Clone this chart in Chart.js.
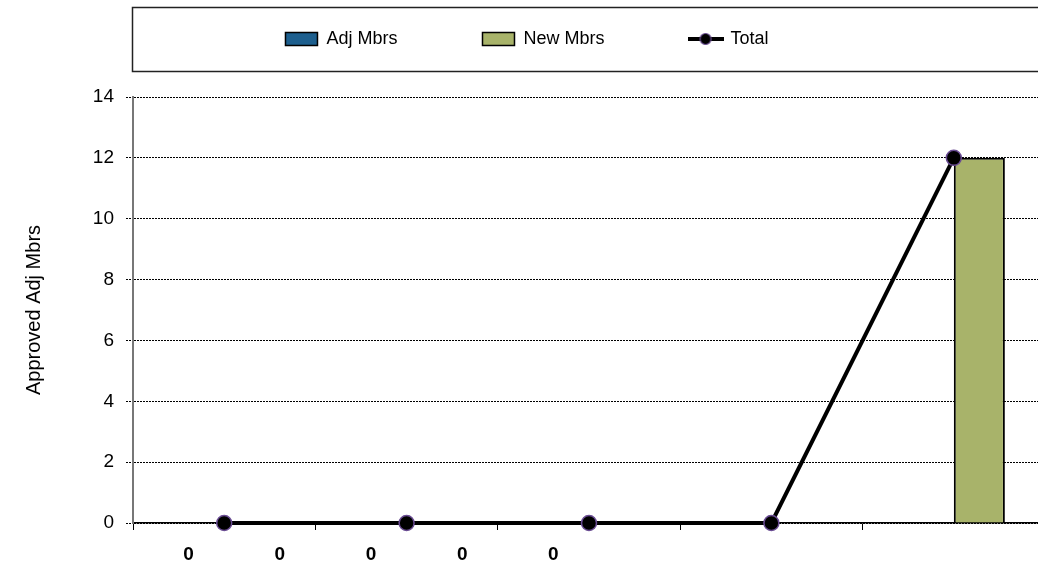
<!DOCTYPE html>
<html><head><meta charset="utf-8">
<script src="https://cdn.jsdelivr.net/npm/chart.js@4/dist/chart.umd.min.js"></script>
<style>html,body{margin:0;padding:0;background:#fff;overflow:hidden}</style>
</head><body>
<canvas id="c" width="1054" height="571" style="display:block"></canvas>
<script>
const categories = ['1', '2', '3', '4', '5'];
const xTickLabels = ['0', '0', '0', '0', '0', '', '', '', '', ''];
const adjMbrs = [0, 0, 0, 0, 0];
const newMbrs = [0, 0, 0, 0, 12];
const total = [0, 0, 0, 0, 12];
const yMin = 0, yMax = 14, yStep = 2;
const seriesNames = ['Adj Mbrs', 'New Mbrs', 'Total'];
const yTitle = 'Approved Adj Mbrs';

const FONT = 'Liberation Sans, Arial, sans-serif';

// legend glyph for the line series: line with a marker
const lineIcon = document.createElement('canvas');
lineIcon.width = 36; lineIcon.height = 14;
(function () {
  const g = lineIcon.getContext('2d');
  g.strokeStyle = '#000'; g.lineWidth = 4;
  g.beginPath(); g.moveTo(0, 7); g.lineTo(36, 7); g.stroke();
  g.beginPath(); g.arc(18, 7, 5.5, 0, Math.PI * 2);
  g.fillStyle = '#000'; g.fill();
  g.strokeStyle = '#6a4c93'; g.lineWidth = 1.2; g.stroke();
})();

const legendFrame = {
  id: 'legendFrame',
  beforeDraw(chart) {
    const lg = chart.legend;
    if (!lg || !lg.legendHitBoxes || !lg.legendHitBoxes.length) return;
    const hb = lg.legendHitBoxes[0];
    const cy = hb.top + hb.height / 2;
    const ctx = chart.ctx;
    ctx.save();
    ctx.strokeStyle = '#222';
    ctx.lineWidth = 1.5;
    ctx.strokeRect(chart.chartArea.left - 0.5, Math.round(cy - 32) + 0.5, chart.width, 64);
    ctx.restore();
  }
};

new Chart(document.getElementById('c'), {
  data: {
    labels: categories,
    datasets: [
      { type: 'bar', label: seriesNames[0], data: adjMbrs, backgroundColor: '#1d5f8e', borderColor: '#000', borderWidth: 2, categoryPercentage: 0.56, barPercentage: 1, order: 1 },
      { type: 'bar', label: seriesNames[1], data: newMbrs, backgroundColor: '#a8b36a', borderColor: '#000', borderWidth: 2, categoryPercentage: 0.56, barPercentage: 1, order: 1 },
      { type: 'line', label: seriesNames[2], data: total, borderColor: '#000', borderWidth: 4, tension: 0, clip: false,
        pointRadius: 7.5, pointBackgroundColor: '#000', pointBorderColor: '#6a4c93', pointBorderWidth: 1.5, order: 0 }
    ]
  },
  options: {
    responsive: false,
    animation: false,
    layout: { padding: { top: -55, left: 0, right: 0, bottom: 0 } },
    plugins: {
      tooltip: { enabled: false },
      subtitle: { display: true, text: '', weight: 500, padding: { top: 0, bottom: 15 }, font: { size: 20 } },
      legend: {
        position: 'top',
        align: 'center',
        labels: {
          usePointStyle: true,
          pointStyleWidth: 32,
          boxHeight: 13,
          padding: 85,
          color: '#000',
          font: { family: FONT, size: 18 },
          generateLabels(chart) {
            return chart.data.datasets.map((ds, i) => ({
              text: ds.label,
              datasetIndex: i,
              fillStyle: ds.type === 'bar' ? ds.backgroundColor : '#000',
              strokeStyle: '#000',
              lineWidth: ds.type === 'bar' ? 1.5 : 0,
              pointStyle: ds.type === 'bar' ? 'rect' : lineIcon,
              hidden: false,
              fontColor: '#000'
            }));
          }
        }
      }
    },
    scales: {
      x: {
        type: 'category',
        offset: true,
        grid: { display: true, drawOnChartArea: false, offset: true, tickLength: 7, color: '#000', tickColor: '#000' },
        border: { color: '#000', width: 1.5 },
        ticks: { display: false },
        afterFit(s) { s.height = 8; }
      },
      x2: {
        type: 'category',
        labels: xTickLabels,
        position: 'bottom',
        offset: true,
        grid: { display: false, drawTicks: false },
        border: { display: false },
        ticks: { color: '#000', font: { family: FONT, size: 19, weight: 'bold' }, labelOffset: 10, maxRotation: 0, autoSkip: false, padding: 12 },
        afterFit(s) { s.height = 40; }
      },
      y: {
        min: yMin, max: yMax,
        ticks: { stepSize: yStep, color: '#000', font: { family: FONT, size: 19 }, padding: 12 },
        grid: { color: '#000', lineWidth: 1, tickLength: 7, tickBorderDash: [2, 1] },
        border: { color: '#777', width: 2, dash: [2, 1] },
        title: { display: true, text: yTitle, color: '#000', font: { family: FONT, size: 20 }, padding: { top: 22, bottom: 0 } },
        afterFit(s) { s.width = 133; }
      }
    }
  },
  plugins: [legendFrame]
});
</script>
</body></html>
